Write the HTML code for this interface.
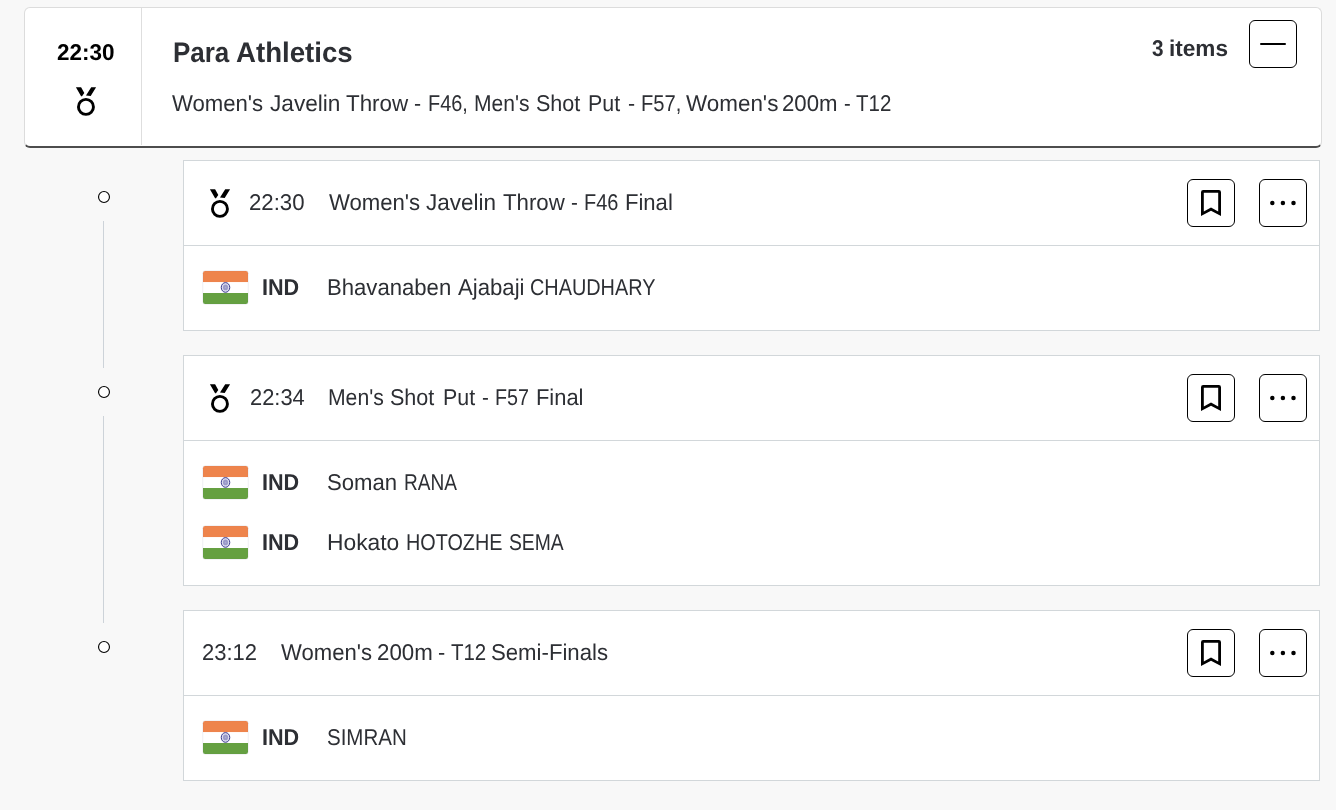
<!DOCTYPE html>
<html>
<head>
<meta charset="utf-8">
<title>Schedule</title>
<style>
*{box-sizing:border-box;margin:0;padding:0}
html,body{width:1336px;height:810px;overflow:hidden}
body{background:#f8f8f8;font-family:"Liberation Sans",sans-serif;color:#2d2f34;position:relative}
.abs{position:absolute}
.w{position:absolute;white-space:nowrap;transform-origin:0 0;display:block}
#hdr{position:absolute;left:24px;top:7px;width:1298px;height:141px;background:#fff;border:1px solid #dcdcdc;border-bottom:2px solid #4d4d4d;border-radius:6px}
#hdiv{position:absolute;left:141px;top:8px;width:1px;height:137px;background:#dedede}
.btn{position:absolute;width:48px;height:48px;border:1px solid #000;border-radius:6px;background:#fff}
.btn svg{position:absolute;left:0;top:0}
.card{position:absolute;left:183px;width:1137px;background:#fff;border:1px solid #d2d7da}
.cdiv{position:absolute;left:184px;width:1135px;height:1px;background:#d2d7da}
.dot{position:absolute;left:98px;width:12px;height:12px;border:1px solid #111;border-radius:50%;background:#fff}
.vline{position:absolute;left:103px;width:1px;background:#cdd3d9}
.ic{position:absolute;overflow:visible}
#txt{position:absolute;left:0;top:0;width:1336px;height:810px;will-change:transform}

</style>
</head>
<body>
<div id="hdr"></div><div id="hdiv"></div>
<svg class="ic" style="left:76px;top:87px" width="21" height="30" viewBox="0 0 21 30"><path d="M-0.1 0.2H5.1L8.3 5.9L6 9.15L5.1 9.15Z M15.2 0.2H20.1L14.7 8.9L10 8.5Z" fill="#000"/><circle cx="9.95" cy="19.9" r="7.5" fill="none" stroke="#000" stroke-width="2.9"/></svg>
<div class="btn" style="left:1249px;top:20px"></div><div class="abs" style="left:1260px;top:43px;width:26px;height:2px;border-radius:1px;background:#000"></div>
<svg class="ic" style="left:98px;top:191px" width="12" height="12" viewBox="0 0 12 12"><circle cx="6" cy="6" r="5.45" fill="#fff" stroke="#000" stroke-width="1.12"/></svg>
<svg class="ic" style="left:98px;top:386px" width="12" height="12" viewBox="0 0 12 12"><circle cx="6" cy="6" r="5.45" fill="#fff" stroke="#000" stroke-width="1.12"/></svg>
<svg class="ic" style="left:98px;top:641px" width="12" height="12" viewBox="0 0 12 12"><circle cx="6" cy="6" r="5.45" fill="#fff" stroke="#000" stroke-width="1.12"/></svg>
<div class="vline" style="top:221px;height:147px"></div>
<div class="vline" style="top:416px;height:207px"></div>
<div class="card" style="top:160px;height:171px"></div><div class="cdiv" style="top:245px"></div>
<svg class="ic" style="left:210px;top:189px" width="21" height="30" viewBox="0 0 21 30"><path d="M-0.1 0.2H5.1L8.3 5.9L6 9.15L5.1 9.15Z M15.2 0.2H20.1L14.7 8.9L10 8.5Z" fill="#000"/><circle cx="9.95" cy="19.9" r="7.5" fill="none" stroke="#000" stroke-width="2.9"/></svg>
<div class="btn" style="left:1187px;top:179px"><svg width="46" height="46" viewBox="1 1 46 46"><path fill-rule="evenodd" d="M14 13.2Q14 11 16.2 11H31.8Q34 11 34 13.2V37L24 31.7L14 37Z M16.8 13.8V32.4L24 28.6L31.2 32.4V13.8Z" fill="#000"/></svg></div>
<div class="btn" style="left:1259px;top:179px"><svg width="46" height="46" viewBox="1 1 46 46"><circle cx="13.3" cy="23.9" r="2.25"/><circle cx="23.9" cy="23.9" r="2.25"/><circle cx="34.5" cy="23.9" r="2.25"/></svg></div>
<svg class="ic" style="left:203px;top:271px" width="45" height="33" viewBox="0 0 45 33"><path d="M0 11.2V2.2Q0 0 2.2 0H42.8Q45 0 45 2.2V11.2Z" fill="#ee844c"/><rect y="11.2" width="45" height="10.9" fill="#fff"/><path d="M0 22.1H45V30.8Q45 33 42.8 33H2.2Q0 33 0 30.8Z" fill="#65a041"/><ellipse cx="22.5" cy="16.45" rx="4.25" ry="4.85" fill="#dcdcee" stroke="#33338a" stroke-width="0.95"/><ellipse cx="22.5" cy="16.45" rx="2.5" ry="2.85" fill="#9a9ac8"/><ellipse cx="22.5" cy="16.45" rx="0.8" ry="0.9" fill="#aeaed4"/><rect x="-0.25" y="-0.25" width="45.5" height="33.5" rx="2.4" fill="none" stroke="rgba(90,100,130,0.16)" stroke-width="0.6"/></svg>
<div class="card" style="top:355px;height:231px"></div><div class="cdiv" style="top:440px"></div>
<svg class="ic" style="left:210px;top:384px" width="21" height="30" viewBox="0 0 21 30"><path d="M-0.1 0.2H5.1L8.3 5.9L6 9.15L5.1 9.15Z M15.2 0.2H20.1L14.7 8.9L10 8.5Z" fill="#000"/><circle cx="9.95" cy="19.9" r="7.5" fill="none" stroke="#000" stroke-width="2.9"/></svg>
<div class="btn" style="left:1187px;top:374px"><svg width="46" height="46" viewBox="1 1 46 46"><path fill-rule="evenodd" d="M14 13.2Q14 11 16.2 11H31.8Q34 11 34 13.2V37L24 31.7L14 37Z M16.8 13.8V32.4L24 28.6L31.2 32.4V13.8Z" fill="#000"/></svg></div>
<div class="btn" style="left:1259px;top:374px"><svg width="46" height="46" viewBox="1 1 46 46"><circle cx="13.3" cy="23.9" r="2.25"/><circle cx="23.9" cy="23.9" r="2.25"/><circle cx="34.5" cy="23.9" r="2.25"/></svg></div>
<svg class="ic" style="left:203px;top:466px" width="45" height="33" viewBox="0 0 45 33"><path d="M0 11.2V2.2Q0 0 2.2 0H42.8Q45 0 45 2.2V11.2Z" fill="#ee844c"/><rect y="11.2" width="45" height="10.9" fill="#fff"/><path d="M0 22.1H45V30.8Q45 33 42.8 33H2.2Q0 33 0 30.8Z" fill="#65a041"/><ellipse cx="22.5" cy="16.45" rx="4.25" ry="4.85" fill="#dcdcee" stroke="#33338a" stroke-width="0.95"/><ellipse cx="22.5" cy="16.45" rx="2.5" ry="2.85" fill="#9a9ac8"/><ellipse cx="22.5" cy="16.45" rx="0.8" ry="0.9" fill="#aeaed4"/><rect x="-0.25" y="-0.25" width="45.5" height="33.5" rx="2.4" fill="none" stroke="rgba(90,100,130,0.16)" stroke-width="0.6"/></svg>
<svg class="ic" style="left:203px;top:526px" width="45" height="33" viewBox="0 0 45 33"><path d="M0 11.2V2.2Q0 0 2.2 0H42.8Q45 0 45 2.2V11.2Z" fill="#ee844c"/><rect y="11.2" width="45" height="10.9" fill="#fff"/><path d="M0 22.1H45V30.8Q45 33 42.8 33H2.2Q0 33 0 30.8Z" fill="#65a041"/><ellipse cx="22.5" cy="16.45" rx="4.25" ry="4.85" fill="#dcdcee" stroke="#33338a" stroke-width="0.95"/><ellipse cx="22.5" cy="16.45" rx="2.5" ry="2.85" fill="#9a9ac8"/><ellipse cx="22.5" cy="16.45" rx="0.8" ry="0.9" fill="#aeaed4"/><rect x="-0.25" y="-0.25" width="45.5" height="33.5" rx="2.4" fill="none" stroke="rgba(90,100,130,0.16)" stroke-width="0.6"/></svg>
<div class="card" style="top:610px;height:171px"></div><div class="cdiv" style="top:695px"></div>
<div class="btn" style="left:1187px;top:629px"><svg width="46" height="46" viewBox="1 1 46 46"><path fill-rule="evenodd" d="M14 13.2Q14 11 16.2 11H31.8Q34 11 34 13.2V37L24 31.7L14 37Z M16.8 13.8V32.4L24 28.6L31.2 32.4V13.8Z" fill="#000"/></svg></div>
<div class="btn" style="left:1259px;top:629px"><svg width="46" height="46" viewBox="1 1 46 46"><circle cx="13.3" cy="23.9" r="2.25"/><circle cx="23.9" cy="23.9" r="2.25"/><circle cx="34.5" cy="23.9" r="2.25"/></svg></div>
<svg class="ic" style="left:203px;top:721px" width="45" height="33" viewBox="0 0 45 33"><path d="M0 11.2V2.2Q0 0 2.2 0H42.8Q45 0 45 2.2V11.2Z" fill="#ee844c"/><rect y="11.2" width="45" height="10.9" fill="#fff"/><path d="M0 22.1H45V30.8Q45 33 42.8 33H2.2Q0 33 0 30.8Z" fill="#65a041"/><ellipse cx="22.5" cy="16.45" rx="4.25" ry="4.85" fill="#dcdcee" stroke="#33338a" stroke-width="0.95"/><ellipse cx="22.5" cy="16.45" rx="2.5" ry="2.85" fill="#9a9ac8"/><ellipse cx="22.5" cy="16.45" rx="0.8" ry="0.9" fill="#aeaed4"/><rect x="-0.25" y="-0.25" width="45.5" height="33.5" rx="2.4" fill="none" stroke="rgba(90,100,130,0.16)" stroke-width="0.6"/></svg>
<div id="txt">
<span class="w" style="left:57.20px;top:39.60px;font-size:22.8px;line-height:25px;transform:rotate(0.05deg) scaleX(0.9856);font-weight:bold;color:#000">22:30</span>
<span class="w" style="left:172.78px;top:37.03px;font-size:28.2px;line-height:31px;transform:rotate(0.05deg) scaleX(0.9215);font-weight:bold">Para</span>
<span class="w" style="left:236.00px;top:37.03px;font-size:28.2px;line-height:31px;transform:rotate(0.05deg) scaleX(0.9800);font-weight:bold">Athletics</span>
<span class="w" style="left:172.10px;top:91.00px;font-size:22.8px;line-height:25px;transform:rotate(0.05deg) scaleX(0.9713)">Women&#39;s</span>
<span class="w" style="left:270.20px;top:91.00px;font-size:22.8px;line-height:25px;transform:rotate(0.05deg) scaleX(0.9931)">Javelin</span>
<span class="w" style="left:346.10px;top:91.00px;font-size:22.8px;line-height:25px;transform:rotate(0.05deg) scaleX(0.9816)">Throw</span>
<span class="w" style="left:414.37px;top:91.00px;font-size:22.8px;line-height:25px;transform:rotate(0.05deg) scaleX(0.9333)">-</span>
<span class="w" style="left:428.13px;top:91.00px;font-size:22.8px;line-height:25px;transform:rotate(0.05deg) scaleX(0.8733)">F46,</span>
<span class="w" style="left:474.28px;top:91.00px;font-size:22.8px;line-height:25px;transform:rotate(0.05deg) scaleX(0.9233)">Men&#39;s</span>
<span class="w" style="left:535.96px;top:91.00px;font-size:22.8px;line-height:25px;transform:rotate(0.05deg) scaleX(0.9450)">Shot</span>
<span class="w" style="left:588.36px;top:91.00px;font-size:22.8px;line-height:25px;transform:rotate(0.05deg) scaleX(0.9385)">Put</span>
<span class="w" style="left:627.67px;top:91.00px;font-size:22.8px;line-height:25px;transform:rotate(0.05deg) scaleX(0.9333)">-</span>
<span class="w" style="left:640.82px;top:91.00px;font-size:22.8px;line-height:25px;transform:rotate(0.05deg) scaleX(0.8826)">F57,</span>
<span class="w" style="left:685.60px;top:91.00px;font-size:22.8px;line-height:25px;transform:rotate(0.05deg) scaleX(0.9841)">Women&#39;s</span>
<span class="w" style="left:782.23px;top:91.00px;font-size:22.8px;line-height:25px;transform:rotate(0.05deg) scaleX(0.9739)">200m</span>
<span class="w" style="left:843.72px;top:91.00px;font-size:22.8px;line-height:25px;transform:rotate(0.05deg) scaleX(0.8833)">-</span>
<span class="w" style="left:855.80px;top:91.00px;font-size:22.8px;line-height:25px;transform:rotate(0.05deg) scaleX(0.8989)">T12</span>
<span class="w" style="left:1151.70px;top:35.60px;font-size:22.8px;line-height:25px;transform:rotate(0.05deg) scaleX(0.9083);font-weight:bold">3</span>
<span class="w" style="left:1169.11px;top:35.60px;font-size:22.8px;line-height:25px;transform:rotate(0.05deg) scaleX(0.9901);font-weight:bold">items</span>
<span class="w" style="left:249.33px;top:189.60px;font-size:22.8px;line-height:25px;transform:rotate(0.05deg) scaleX(0.9735)">22:30</span>
<span class="w" style="left:328.50px;top:189.60px;font-size:22.8px;line-height:25px;transform:rotate(0.05deg) scaleX(0.9713)">Women&#39;s</span>
<span class="w" style="left:426.20px;top:189.60px;font-size:22.8px;line-height:25px;transform:rotate(0.05deg) scaleX(0.9874)">Javelin</span>
<span class="w" style="left:502.80px;top:189.60px;font-size:22.8px;line-height:25px;transform:rotate(0.05deg) scaleX(0.9754)">Throw</span>
<span class="w" style="left:571.40px;top:189.60px;font-size:22.8px;line-height:25px;transform:rotate(0.05deg) scaleX(0.9000)">-</span>
<span class="w" style="left:584.33px;top:189.60px;font-size:22.8px;line-height:25px;transform:rotate(0.05deg) scaleX(0.8749)">F46</span>
<span class="w" style="left:625.03px;top:189.60px;font-size:22.8px;line-height:25px;transform:rotate(0.05deg) scaleX(0.9673)">Final</span>
<span class="w" style="left:261.55px;top:274.60px;font-size:22.8px;line-height:25px;transform:rotate(0.05deg) scaleX(0.9472);font-weight:bold">IND</span>
<span class="w" style="left:327.43px;top:274.60px;font-size:22.8px;line-height:25px;transform:rotate(0.05deg) scaleX(0.9703)">Bhavanaben</span>
<span class="w" style="left:457.50px;top:274.60px;font-size:22.8px;line-height:25px;transform:rotate(0.05deg) scaleX(0.9722)">Ajabaji</span>
<span class="w" style="left:530.03px;top:274.60px;font-size:22.8px;line-height:25px;transform:rotate(0.05deg) scaleX(0.8713)">CHAUDHARY</span>
<span class="w" style="left:249.54px;top:384.60px;font-size:22.8px;line-height:25px;transform:rotate(0.05deg) scaleX(0.9597)">22:34</span>
<span class="w" style="left:328.07px;top:384.60px;font-size:22.8px;line-height:25px;transform:rotate(0.05deg) scaleX(0.9285)">Men&#39;s</span>
<span class="w" style="left:390.36px;top:384.60px;font-size:22.8px;line-height:25px;transform:rotate(0.05deg) scaleX(0.9450)">Shot</span>
<span class="w" style="left:442.76px;top:384.60px;font-size:22.8px;line-height:25px;transform:rotate(0.05deg) scaleX(0.9385)">Put</span>
<span class="w" style="left:482.00px;top:384.60px;font-size:22.8px;line-height:25px;transform:rotate(0.05deg) scaleX(0.9000)">-</span>
<span class="w" style="left:494.74px;top:384.60px;font-size:22.8px;line-height:25px;transform:rotate(0.05deg) scaleX(0.8643)">F57</span>
<span class="w" style="left:535.94px;top:384.60px;font-size:22.8px;line-height:25px;transform:rotate(0.05deg) scaleX(0.9610)">Final</span>
<span class="w" style="left:261.55px;top:469.60px;font-size:22.8px;line-height:25px;transform:rotate(0.05deg) scaleX(0.9472);font-weight:bold">IND</span>
<span class="w" style="left:327.03px;top:469.60px;font-size:22.8px;line-height:25px;transform:rotate(0.05deg) scaleX(0.9709)">Soman</span>
<span class="w" style="left:404.06px;top:469.60px;font-size:22.8px;line-height:25px;transform:rotate(0.05deg) scaleX(0.8363)">RANA</span>
<span class="w" style="left:261.55px;top:529.60px;font-size:22.8px;line-height:25px;transform:rotate(0.05deg) scaleX(0.9472);font-weight:bold">IND</span>
<span class="w" style="left:327.40px;top:529.60px;font-size:22.8px;line-height:25px;transform:rotate(0.05deg) scaleX(1.0007)">Hokato</span>
<span class="w" style="left:406.13px;top:529.60px;font-size:22.8px;line-height:25px;transform:rotate(0.05deg) scaleX(0.8686)">HOTOZHE</span>
<span class="w" style="left:509.45px;top:529.60px;font-size:22.8px;line-height:25px;transform:rotate(0.05deg) scaleX(0.8463)">SEMA</span>
<span class="w" style="left:201.84px;top:639.60px;font-size:22.8px;line-height:25px;transform:rotate(0.05deg) scaleX(0.9644)">23:12</span>
<span class="w" style="left:280.90px;top:639.60px;font-size:22.8px;line-height:25px;transform:rotate(0.05deg) scaleX(0.9692)">Women&#39;s</span>
<span class="w" style="left:377.02px;top:639.60px;font-size:22.8px;line-height:25px;transform:rotate(0.05deg) scaleX(0.9775)">200m</span>
<span class="w" style="left:438.05px;top:639.60px;font-size:22.8px;line-height:25px;transform:rotate(0.05deg) scaleX(0.9500)">-</span>
<span class="w" style="left:451.00px;top:639.60px;font-size:22.8px;line-height:25px;transform:rotate(0.05deg) scaleX(0.8963)">T12</span>
<span class="w" style="left:491.33px;top:639.60px;font-size:22.8px;line-height:25px;transform:rotate(0.05deg) scaleX(0.9727)">Semi-Finals</span>
<span class="w" style="left:261.55px;top:724.60px;font-size:22.8px;line-height:25px;transform:rotate(0.05deg) scaleX(0.9472);font-weight:bold">IND</span>
<span class="w" style="left:326.80px;top:724.60px;font-size:22.8px;line-height:25px;transform:rotate(0.05deg) scaleX(0.8991)">SIMRAN</span>
</div>
</body>
</html>
